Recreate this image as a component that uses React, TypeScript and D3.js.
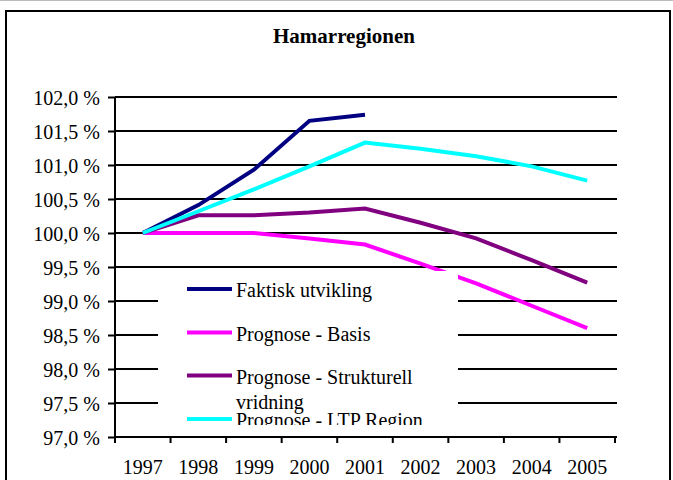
import { useEffect, useRef } from 'react';
import * as d3 from 'd3';

const years = ['1997', '1998', '1999', '2000', '2001', '2002', '2003', '2004', '2005'];
const yTicks = [97, 97.5, 98, 98.5, 99, 99.5, 100, 100.5, 101, 101.5, 102];

const faktisk = [100, 100.41, 100.93, 101.65, 101.74];
const basis = [100, 100, 100, 99.92, 99.83, 99.55, 99.26, 98.93, 98.6];
const strukturell = [100, 100.26, 100.26, 100.3, 100.36, 100.15, 99.92, 99.6, 99.27];
const ltp = [100, 100.32, 100.64, 100.98, 101.33, 101.24, 101.13, 100.98, 100.77];

const seriesNames = [
  'Faktisk utvikling',
  'Prognose - Basis',
  'Prognose - Strukturell vridning',
  'Prognose - LTP Region',
];
const seriesColors = ['#000080', '#ff00ff', '#800080', '#00ffff'];

const FONT = '"Liberation Serif", "Times New Roman", serif';

function App() {
  const svgRef = useRef<SVGSVGElement>(null);

  useEffect(() => {
    const svg = d3.select(svgRef.current);
    svg.selectAll('*').remove();

    const left = 115;
    const right = 615;
    const top = 97;
    const bottom = 437;

    const x = d3.scaleBand().domain(years).range([left, right]);
    const y = d3.scaleLinear().domain([97, 102]).range([bottom, top]);

    // top edge line and outer frame
    svg
      .append('line')
      .attr('x1', 0)
      .attr('x2', 673)
      .attr('y1', 0.5)
      .attr('y2', 0.5)
      .attr('stroke', '#bbb');
    svg
      .append('rect')
      .attr('x', 6)
      .attr('y', 11)
      .attr('width', 664)
      .attr('height', 490)
      .attr('fill', 'white')
      .attr('stroke', 'black')
      .attr('stroke-width', 2);

    svg
      .append('text')
      .attr('x', 344)
      .attr('y', 43)
      .attr('text-anchor', 'middle')
      .attr('font-family', FONT)
      .attr('font-weight', 'bold')
      .attr('font-size', 21)
      .text('Hamarregionen');

    // gridlines
    svg
      .append('g')
      .selectAll('line')
      .data(yTicks.slice(1))
      .enter()
      .append('line')
      .attr('x1', left)
      .attr('x2', 617)
      .attr('y1', (d) => y(d))
      .attr('y2', (d) => y(d))
      .attr('stroke', 'black')
      .attr('stroke-width', 2);

    // y axis
    const yAxis = svg
      .append('g')
      .attr('transform', `translate(${left},0)`)
      .call(
        d3
          .axisLeft(y)
          .tickValues(yTicks)
          .tickSize(7)
          .tickPadding(8)
          .tickFormat((d) => d3.format('.1f')(d as number).replace('.', ',') + ' %')
      );
    yAxis.select('.domain').attr('stroke-width', 2).attr('d', `M0,${top}V${bottom}`);
    yAxis.selectAll('.tick line').attr('stroke-width', 2);
    yAxis
      .selectAll('.tick text')
      .attr('font-family', FONT)
      .attr('font-size', 20)
      .attr('fill', 'black')
      .attr('dy', '0.38em');

    // x axis
    const xAxis = svg
      .append('g')
      .attr('transform', `translate(0,${bottom})`)
      .call(d3.axisBottom(x).tickSize(0).tickPadding(23));
    xAxis.select('.domain').attr('stroke-width', 2).attr('d', `M${left},0H${617}`);
    xAxis
      .selectAll('.tick text')
      .attr('font-family', FONT)
      .attr('font-size', 20)
      .attr('fill', 'black');
    xAxis
      .append('g')
      .selectAll('line')
      .data(years.concat(['end']))
      .enter()
      .append('line')
      .attr('x1', (d, i) => left + i * x.step())
      .attr('x2', (d, i) => left + i * x.step())
      .attr('y1', 0)
      .attr('y2', 6)
      .attr('stroke', 'black')
      .attr('stroke-width', 2);

    // series
    const line = d3
      .line<number>()
      .x((d, i) => (x(years[i]) as number) + x.bandwidth() / 2)
      .y((d) => y(d));

    [faktisk, basis, strukturell, ltp].forEach((values, i) => {
      svg
        .append('path')
        .datum(values)
        .attr('d', line)
        .attr('fill', 'none')
        .attr('stroke', seriesColors[i])
        .attr('stroke-width', 4);
    });

    // legend box
    svg
      .append('clipPath')
      .attr('id', 'legend-clip')
      .append('rect')
      .attr('x', 158)
      .attr('y', 271)
      .attr('width', 300)
      .attr('height', 154);

    const legend = svg.append('g').attr('clip-path', 'url(#legend-clip)');
    legend
      .append('rect')
      .attr('x', 158)
      .attr('y', 271)
      .attr('width', 300)
      .attr('height', 154)
      .attr('fill', 'white');

    const rowY = [289, 332.5, 375.5, 419];
    seriesNames.forEach((name, i) => {
      legend
        .append('line')
        .attr('x1', 187)
        .attr('x2', 232)
        .attr('y1', rowY[i])
        .attr('y2', rowY[i])
        .attr('stroke', seriesColors[i])
        .attr('stroke-width', 4);
      const t = legend
        .append('text')
        .attr('x', 236)
        .attr('y', rowY[i] + 8)
        .attr('font-family', FONT)
        .attr('font-size', 20);
      if (i === 2) {
        t.append('tspan').attr('x', 236).text('Prognose - Strukturell');
        t.append('tspan').attr('x', 236).attr('dy', 25).text('vridning');
      } else {
        t.text(name);
      }
    });
  }, []);

  return (
    <div style={{ position: 'fixed', left: 0, top: 0, width: 673, height: 480, background: 'white' }}>
      <svg width="673" height="480" ref={svgRef} style={{ display: 'block' }} />
    </div>
  );
}

export default App;
